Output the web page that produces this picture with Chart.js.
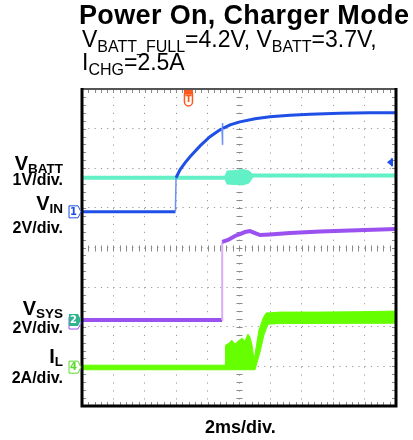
<!DOCTYPE html>
<html>
<head>
<meta charset="utf-8">
<title>Power On, Charger Mode</title>
<script src="https://cdn.jsdelivr.net/npm/chart.js@4.4.0/dist/chart.umd.min.js"></script>
<style>
  body { margin: 0; background: #fff; }
  #wrap { position: relative; width: 413px; height: 440px; overflow: hidden; font-family: "Liberation Sans", Arial, sans-serif; color: #000; }
  #wrap canvas { position: absolute; left: 0; top: 0; }
  .t { position: absolute; line-height: 1; white-space: nowrap; }
  .t sub { line-height: 0; }
  .head sub { font-size: 16px; vertical-align: -5px; }
  .lbl { right: 350px; text-align: right; font-weight: bold; }
  .lbl sub { font-size: 13.5px; vertical-align: -3px; }
</style>
</head>
<body>
<div id="wrap">
  <canvas id="scope" width="413" height="440"></canvas>

  <div class="t" style="left:79px; top:2px; font-size:27px; font-weight:bold; letter-spacing:0.35px;">Power On, Charger Mode</div>
  <div class="t head" style="left:82px; top:28px; font-size:23px;">V<sub>BATT_FULL</sub>=4.2V, V<sub>BATT</sub>=3.7V,</div>
  <div class="t head" style="left:82px; top:51px; font-size:23px;">I<sub>CHG</sub>=2.5A</div>

  <div class="t lbl" style="top:153px; font-size:20px;">V<sub>BATT</sub></div>
  <div class="t lbl" style="top:172px; font-size:16px;">1V/div.</div>
  <div class="t lbl" style="top:193px; font-size:20px;">V<sub>IN</sub></div>
  <div class="t lbl" style="top:220px; font-size:16px;">2V/div.</div>
  <div class="t lbl" style="top:298px; font-size:20px;">V<sub>SYS</sub></div>
  <div class="t lbl" style="top:320px; font-size:16px;">2V/div.</div>
  <div class="t lbl" style="top:346px; font-size:20px;">I<sub>L</sub></div>
  <div class="t lbl" style="top:370px; font-size:16px;">2A/div.</div>

  <div class="t" style="left:205px; top:418px; font-size:18px; font-weight:bold;">2ms/div.</div>
</div>

<script>
const vinTime  = [0, 5.95, 5.99, 6.24, 6.56, 6.88, 7.52, 8.15, 8.79, 8.92, 8.93, 8.95, 8.98, 9.43, 10.06, 11.02, 11.97, 13.25, 14.52, 16.43, 18.34, 20];
const vinVolts = [0, 0, 1.72, 2.12, 2.47, 2.78, 3.33, 3.79, 4.14, 4.19, 4.49, 3.38, 4.21, 4.39, 4.54, 4.70, 4.80, 4.87, 4.92, 4.97, 5.00, 5.00];

const vbatTime  = [0, 9.11, 10.89, 14, 20];
const vbatVolts = [3.70, 3.70, 3.76, 3.76, 3.76];
// noise burst on VBATT (upper / lower envelope)
const vbatBurstTime = [9.11, 9.24, 9.74, 10.25, 10.64, 10.89];
const vbatBurstHi   = [3.74, 3.87, 3.88, 3.91, 3.87, 3.78];
const vbatBurstLo   = [3.66, 3.54, 3.53, 3.52, 3.57, 3.72];

const vsysTime  = [0, 8.92, 8.93, 9.30, 9.74, 10.06, 10.38, 10.70, 11.02, 11.34, 11.97, 13.25, 15.16, 17.07, 20];
const vsysVolts = [0, 0, 3.94, 4.04, 4.24, 4.34, 4.44, 4.49, 4.39, 4.29, 4.32, 4.39, 4.47, 4.52, 4.59];

// inductor current: upper and lower edge of the noisy trace
const ilHiTime = [0, 9.11, 9.14, 9.36, 9.55, 9.74, 9.94, 10.19, 10.38, 10.57, 10.70, 10.83, 10.96, 11.27, 11.53, 11.72, 12.61, 15.16, 17.71, 20];
const ilHiAmps = [0.10, 0.10, 1.11, 1.21, 1.36, 1.16, 1.31, 1.46, 1.31, 1.67, 1.51, 1.11, 0.35, 1.87, 2.47, 2.73, 2.78, 2.78, 2.80, 2.83];
const ilLoTime = [0, 11.02, 11.34, 11.59, 11.85, 12.61, 20];
const ilLoAmps = [-0.13, -0.13, 0.76, 1.62, 2.17, 2.20, 2.22];

// channel settings: zero position (div from bottom) and units per div
const ch1 = { offset: 4.9, perDiv: 2 };   // VIN
const ch2 = { offset: 2.17, perDiv: 2 };  // VSYS
const ch3 = { offset: 2.06, perDiv: 1 };  // VBATT
const ch4 = { offset: 0.98, perDiv: 2 };  // IL

const trigTime = 6.75;
const trigLevel = 2.5;

const colVin = '#1f4fe6';
const colVbat = '#62f0c6';
const colVsys = '#9b51f0';
const colIl = '#66ff00';

function toPoints(times, values, ch) {
    return times.map((t, i) => ({ x: t, y: ch.offset + values[i] / ch.perDiv }));
}

// fast edges are drawn thinner and lighter, like on the scope
function isEdge(ctx) {
    return Math.abs(ctx.p1.parsed.x - ctx.p0.parsed.x) < 0.05;
}
function edgeStyle(color, width) {
    return {
        borderColor: ctx => isEdge(ctx) ? color : undefined,
        borderWidth: ctx => isEdge(ctx) ? width : undefined
    };
}

const datasets = [
    { data: toPoints(vinTime, vinVolts, ch1), borderColor: colVin, borderWidth: 3, segment: edgeStyle('#6f8ff5', 1.5) },
    { data: toPoints(vsysTime, vsysVolts, ch2), borderColor: colVsys, borderWidth: 4, segment: edgeStyle('#d9adfb', 2) },
    { data: toPoints(ilHiTime, ilHiAmps, ch4), borderColor: colIl, borderWidth: 1, fill: '+1', backgroundColor: colIl },
    { data: toPoints(ilLoTime, ilLoAmps, ch4), borderColor: colIl, borderWidth: 1 },
    { data: toPoints(vbatTime, vbatVolts, ch3), borderColor: colVbat, borderWidth: 4 },
    { data: toPoints(vbatBurstTime, vbatBurstHi, ch3), borderColor: colVbat, borderWidth: 1, fill: '+1', backgroundColor: colVbat },
    { data: toPoints(vbatBurstTime, vbatBurstLo, ch3), borderColor: colVbat, borderWidth: 1 }
];

function chMarker(ctx, x0, py, label, color, filled) {
    const w = 9, h = 12;
    ctx.beginPath();
    ctx.moveTo(x0, py - h / 2);
    ctx.lineTo(x0 + w, py - h / 2);
    ctx.lineTo(x0 + w + 3, py);
    ctx.lineTo(x0 + w, py + h / 2);
    ctx.lineTo(x0, py + h / 2);
    ctx.closePath();
    if (filled) {
        ctx.fillStyle = color;
        ctx.fill();
        ctx.fillStyle = '#fff';
    } else {
        ctx.fillStyle = '#fff';
        ctx.fill();
        ctx.lineWidth = 1;
        ctx.strokeStyle = color;
        ctx.stroke();
        ctx.fillStyle = color;
    }
    ctx.font = 'bold 10px "DejaVu Sans"';
    ctx.textAlign = 'center';
    ctx.textBaseline = 'middle';
    ctx.fillText(label, x0 + w / 2, py + 0.5);
}

// scope look: minor ticks, frame, channel and trigger markers
const scopeDecor = {
    id: 'scopeDecor',
    beforeDatasetsDraw(chart) {
        const { ctx, chartArea: a, scales: { x, y } } = chart;
        const cx = Math.round(x.getPixelForValue(10)) + 0.5;
        const cy = Math.round(y.getPixelForValue(4)) + 0.5;
        ctx.save();
        ctx.strokeStyle = '#8a8a8a';
        ctx.lineWidth = 1;
        ctx.beginPath();
        for (let i = 0; i <= 50; i++) {
            const px = Math.round(x.getPixelForValue(i * 0.4)) + 0.5;
            ctx.moveTo(px, cy - 3); ctx.lineTo(px, cy + 3);
            ctx.moveTo(px, a.top); ctx.lineTo(px, a.top + 4);
            ctx.moveTo(px, a.bottom); ctx.lineTo(px, a.bottom - 4);
        }
        for (let i = 0; i <= 40; i++) {
            const py = Math.round(y.getPixelForValue(i * 0.2)) + 0.5;
            ctx.moveTo(cx - 3, py); ctx.lineTo(cx + 3, py);
            ctx.moveTo(a.left, py); ctx.lineTo(a.left + 4, py);
            ctx.moveTo(a.right, py); ctx.lineTo(a.right - 4, py);
        }
        ctx.stroke();
        ctx.restore();
    },
    afterDatasetsDraw(chart) {
        const { ctx, chartArea: a, scales: { x, y } } = chart;
        ctx.save();

        // frame
        ctx.strokeStyle = '#555';
        ctx.lineWidth = 2;
        ctx.beginPath();
        ctx.moveTo(a.left, a.top); ctx.lineTo(a.right, a.top);
        ctx.stroke();
        ctx.strokeStyle = '#000';
        ctx.lineWidth = 3;
        ctx.beginPath();
        ctx.moveTo(a.left, a.top - 1);
        ctx.lineTo(a.left, a.bottom);
        ctx.lineTo(a.right, a.bottom);
        ctx.lineTo(a.right, a.top - 1);
        ctx.stroke();

        // channel markers on the left
        const mx = a.left - 13;
        chMarker(ctx, mx, y.getPixelForValue(ch1.offset), '1', colVin, false);
        chMarker(ctx, mx, y.getPixelForValue(ch2.offset) + 3, '', colVsys, false);
        chMarker(ctx, mx, y.getPixelForValue(ch2.offset), '2', '#2fb48e', true);
        chMarker(ctx, mx, y.getPixelForValue(ch4.offset), '4', '#5cd92a', false);

        // trigger position
        const tx = x.getPixelForValue(trigTime);
        ctx.fillStyle = '#ff5a1e';
        ctx.fillRect(tx - 4, a.top + 1, 9, 4);
        ctx.strokeStyle = '#ff5a1e';
        ctx.lineWidth = 1.5;
        ctx.beginPath();
        ctx.roundRect(tx - 3.5, a.top + 5, 8, 12, [0, 0, 4, 4]);
        ctx.stroke();
        ctx.font = 'bold 9px "DejaVu Sans"';
        ctx.textAlign = 'center';
        ctx.textBaseline = 'middle';
        ctx.fillText('T', tx + 0.5, a.top + 11);

        // trigger level
        const ty = y.getPixelForValue(ch1.offset + trigLevel / ch1.perDiv);
        ctx.fillStyle = colVin;
        ctx.beginPath();
        ctx.moveTo(a.right - 9, ty);
        ctx.lineTo(a.right - 4, ty - 4);
        ctx.lineTo(a.right - 4, ty + 4);
        ctx.closePath();
        ctx.fill();
        ctx.fillRect(a.right - 5, ty - 4, 2, 8);

        ctx.restore();
    }
};

new Chart(document.getElementById('scope'), {
    type: 'line',
    data: { datasets: datasets },
    options: {
        responsive: false,
        animation: false,
        layout: { padding: { left: 82, top: 89, right: 17, bottom: 34 } },
        elements: { point: { radius: 0 }, line: { tension: 0 } },
        plugins: { legend: { display: false }, tooltip: { enabled: false } },
        scales: {
            x: {
                type: 'linear', min: 0, max: 20,
                ticks: { display: false, stepSize: 2 },
                grid: { color: '#9a9a9a', lineWidth: 1, drawTicks: false },
                border: { display: false, dash: [1.2, 6.73] }
            },
            y: {
                type: 'linear', min: 0, max: 8,
                ticks: { display: false, stepSize: 1 },
                grid: { color: '#9a9a9a', lineWidth: 1, drawTicks: false },
                border: { display: false, dash: [1.2, 5.08] }
            }
        }
    },
    plugins: [scopeDecor]
});
</script>
</body>
</html>
